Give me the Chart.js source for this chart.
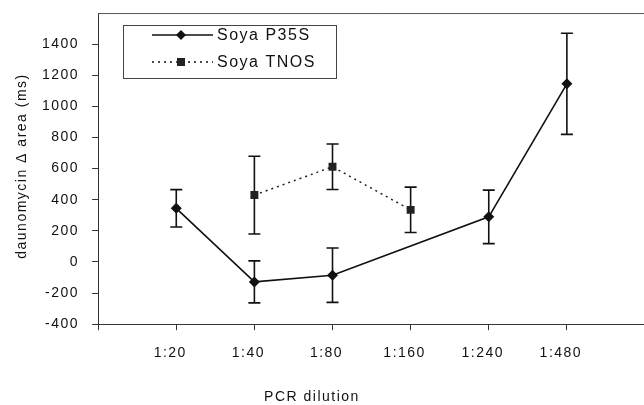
<!DOCTYPE html>
<html>
<head>
<meta charset="utf-8">
<script src="https://cdn.jsdelivr.net/npm/chart.js"></script>
<style>
  html, body { margin: 0; padding: 0; background: #fff; overflow: hidden; width: 644px; height: 405px; }
  #wrap { width: 660px; height: 405px; }
</style>
</head>
<body>
<div id="wrap"><canvas id="c" width="660" height="405"></canvas></div>
<script>
// ---- data ----
const categories = ['1:20', '1:40', '1:80', '1:160', '1:240', '1:480'];
const p35sValues = [345, -128, -85, null, 290, 1145];
const p35sErrors = [120, 135, 175, null, 172, 325];
const tnosValues = [null, 430, 612, 335, null, null];
const tnosErrors = [null, 250, 146, 146, null, null];
const seriesNames = ['Soya P35S', 'Soya TNOS'];
const yTicks = [-400, -200, 0, 200, 400, 600, 800, 1000, 1200, 1400];
const xTitle = 'PCR dilution';
const yTitle = 'daunomycin \u0394 area (ms)';

const FONT = '"Liberation Sans", Arial, sans-serif';
const SPACING = '1.5px';

// category axis padded with an empty slot on each side
const labels = [''].concat(categories, ['']);
const pad = arr => [null].concat(arr, [null]);

const spacingPlugin = {
  id: 'spacing',
  beforeUpdate(chart) { chart.ctx.letterSpacing = SPACING; },
  beforeLayout(chart) { chart.ctx.letterSpacing = SPACING; },
  beforeDraw(chart) { chart.ctx.letterSpacing = SPACING; }
};

const errorBarPlugin = {
  id: 'errorBars',
  beforeDatasetsDraw(chart) {
    const ctx = chart.ctx;
    const y = chart.scales.y;
    ctx.save();
    ctx.strokeStyle = '#111';
    ctx.lineWidth = 1.6;
    chart.data.datasets.forEach((ds, di) => {
      const meta = chart.getDatasetMeta(di);
      ds.data.forEach((v, i) => {
        const e = ds.errors[i];
        if (v === null || e === null || e === undefined) return;
        const px = meta.data[i].x;
        const top = y.getPixelForValue(v + e);
        const bot = y.getPixelForValue(v - e);
        ctx.beginPath();
        ctx.moveTo(px, top); ctx.lineTo(px, bot);
        ctx.moveTo(px - 6, top); ctx.lineTo(px + 6, top);
        ctx.moveTo(px - 6, bot); ctx.lineTo(px + 6, bot);
        ctx.stroke();
      });
    });
    ctx.restore();
  }
};

const framePlugin = {
  id: 'frame',
  afterDraw(chart) {
    const ctx = chart.ctx;
    const a = chart.chartArea;
    ctx.save();
    ctx.letterSpacing = SPACING;
    // top border
    ctx.strokeStyle = '#555';
    ctx.lineWidth = 1;
    ctx.beginPath();
    ctx.moveTo(a.left, a.top + 0.5);
    ctx.lineTo(chart.width, a.top + 0.5);
    ctx.stroke();

    // axis titles
    ctx.fillStyle = '#111';
    ctx.font = '14px ' + FONT;
    ctx.textAlign = 'center';
    ctx.textBaseline = 'middle';
    ctx.fillText(xTitle, 312, 397);
    ctx.save();
    ctx.translate(22, 166);
    ctx.rotate(-Math.PI / 2);
    ctx.fillText(yTitle, 0, 0);
    ctx.restore();

    // legend box
    const L = 123, T = 25, R = 336, B = 78;
    ctx.strokeStyle = '#444';
    ctx.lineWidth = 1;
    ctx.strokeRect(L + 0.5, T + 0.5, R - L, B - T);
    const rows = [35, 62];
    // row 1: solid line + diamond
    ctx.strokeStyle = '#111';
    ctx.lineWidth = 1.6;
    ctx.setLineDash([]);
    ctx.beginPath(); ctx.moveTo(152, rows[0]); ctx.lineTo(213, rows[0]); ctx.stroke();
    ctx.fillStyle = '#111';
    ctx.beginPath();
    ctx.moveTo(181 - 5, rows[0]); ctx.lineTo(181, rows[0] - 5);
    ctx.lineTo(181 + 5, rows[0]); ctx.lineTo(181, rows[0] + 5); ctx.closePath(); ctx.fill();
    // row 2: dotted line + square
    ctx.setLineDash([2, 4]);
    ctx.lineWidth = 1.4;
    ctx.beginPath(); ctx.moveTo(152, rows[1]); ctx.lineTo(213, rows[1]); ctx.stroke();
    ctx.setLineDash([]);
    ctx.fillStyle = '#222';
    ctx.fillRect(177, rows[1] - 4, 8, 8);
    // legend text
    ctx.fillStyle = '#111';
    ctx.font = '16px ' + FONT;
    ctx.textAlign = 'left';
    ctx.fillText(seriesNames[0], 217, rows[0] + 1);
    ctx.fillText(seriesNames[1], 217, rows[1] + 1);
    ctx.restore();
  }
};

new Chart(document.getElementById('c'), {
  type: 'line',
  data: {
    labels: labels,
    datasets: [
      {
        label: seriesNames[0],
        data: pad(p35sValues),
        errors: pad(p35sErrors),
        borderColor: '#111',
        backgroundColor: '#111',
        borderWidth: 1.6,
        pointStyle: 'rectRot',
        pointRadius: 5.5,
        pointBorderWidth: 0,
        pointBackgroundColor: '#111',
        spanGaps: true,
        tension: 0
      },
      {
        label: seriesNames[1],
        data: pad(tnosValues),
        errors: pad(tnosErrors),
        borderColor: '#222',
        backgroundColor: '#222',
        borderWidth: 1.5,
        borderDash: [2, 4],
        pointStyle: 'rect',
        pointRadius: 5.6,
        pointBorderWidth: 0,
        pointBackgroundColor: '#222',
        spanGaps: true,
        tension: 0
      }
    ]
  },
  options: {
    responsive: false,
    animation: false,
    devicePixelRatio: 1,
    layout: { padding: { left: 29, right: 6, top: 0, bottom: 28 } },
    plugins: {
      legend: { display: false },
      tooltip: { enabled: false },
      title: { display: false }
    },
    scales: {
      x: {
        type: 'category',
        offset: false,
        grid: { drawOnChartArea: false, drawTicks: true, tickLength: 6, color: '#333' },
        border: { display: true, color: '#333', width: 1 },
        ticks: {
          autoSkip: false,
          maxRotation: 0,
          color: '#111',
          font: { family: FONT, size: 14 },
          padding: 15,
          labelOffset: -6
        }
      },
      y: {
        min: -400,
        max: 1600,
        afterBuildTicks(axis) {
          axis.ticks = yTicks.map(v => ({ value: v }));
        },
        grid: { drawOnChartArea: false, drawTicks: true, tickLength: 6, color: '#333' },
        border: { display: true, color: '#333', width: 1 },
        ticks: {
          color: '#111',
          font: { family: FONT, size: 14, lineHeight: 0.01 },
          padding: 13,
          callback: v => String(v)
        }
      }
    }
  },
  plugins: [spacingPlugin, errorBarPlugin, framePlugin]
});
</script>
</body>
</html>
